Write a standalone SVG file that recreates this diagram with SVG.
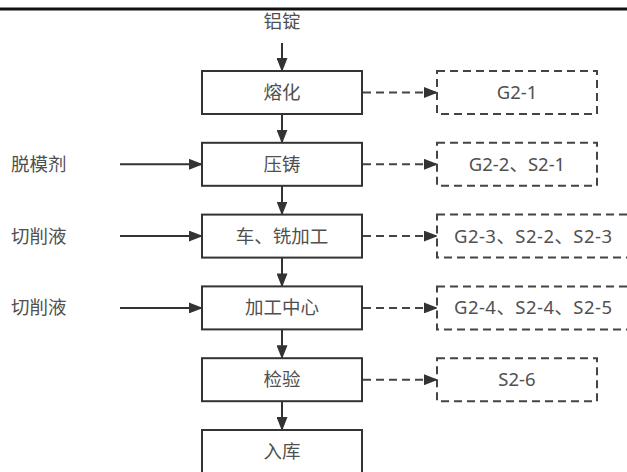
<svg xmlns="http://www.w3.org/2000/svg" width="627" height="472" viewBox="0 0 627 472">
<defs>
<marker id="ah" viewBox="0 0 14 11" refX="13" refY="5.5" markerWidth="14" markerHeight="11" markerUnits="userSpaceOnUse" orient="auto">
<path d="M0,0 L14,5.5 L0,11 Z" fill="#333"/>
</marker>
<style>
.box{fill:#fff;stroke:#333;stroke-width:2}
.dbox{fill:#fff;stroke:#444;stroke-width:2;stroke-dasharray:8 5}
.t{font-family:"Noto Sans","Noto Sans CJK SC",sans-serif;font-size:18.5px;fill:#505050;text-anchor:middle}
.l{font-family:"Noto Sans","Noto Sans CJK SC",sans-serif;font-size:18.5px;fill:#505050}
.c{fill:none;stroke:#333;stroke-width:2;marker-end:url(#ah)}
.d{fill:none;stroke:#444;stroke-width:2;stroke-dasharray:8 5;marker-end:url(#ah)}
</style>
</defs>
<rect width="627" height="472" fill="#fff"/>
<line x1="0" y1="9" x2="627" y2="9" stroke="#111" stroke-width="3"/>

<g id="connectors">
<line class="c" x1="282" y1="43" x2="282" y2="71"/>
<line class="c" x1="282" y1="114" x2="282" y2="142.8"/>
<line class="c" x1="282" y1="185.8" x2="282" y2="214.6"/>
<line class="c" x1="282" y1="257.6" x2="282" y2="286.4"/>
<line class="c" x1="282" y1="329.4" x2="282" y2="358.2"/>
<line class="c" x1="282" y1="401.2" x2="282" y2="430"/>
<line class="c" x1="120" y1="164.3" x2="202" y2="164.3"/>
<line class="c" x1="120" y1="236.1" x2="202" y2="236.1"/>
<line class="c" x1="120" y1="307.9" x2="202" y2="307.9"/>
<line class="d" x1="363" y1="92.5" x2="437" y2="92.5"/>
<line class="d" x1="363" y1="164.3" x2="437" y2="164.3"/>
<line class="d" x1="363" y1="236.1" x2="437" y2="236.1"/>
<line class="d" x1="363" y1="307.9" x2="437" y2="307.9"/>
<line class="d" x1="363" y1="379.7" x2="437" y2="379.7"/>
</g>

<g id="input-lvding"><text class="t" x="282" y="27.5">铝锭</text></g>
<g id="input-tuomoji"><text class="l" x="11" y="170.8">脱模剂</text></g>
<g id="input-qiexueye1"><text class="l" x="11" y="242.6">切削液</text></g>
<g id="input-qiexueye2"><text class="l" x="11" y="314.4">切削液</text></g>

<g id="n-ronghua"><rect class="box" x="202" y="71" width="160" height="43"/><text class="t" x="282" y="99">熔化</text></g>
<g id="n-yazhu"><rect class="box" x="202" y="142.8" width="160" height="43"/><text class="t" x="282" y="170.8">压铸</text></g>
<g id="n-chexi"><rect class="box" x="202" y="214.6" width="160" height="43"/><text class="t" x="282" y="242.6">车、铣加工</text></g>
<g id="n-jiagong"><rect class="box" x="202" y="286.4" width="160" height="43"/><text class="t" x="282" y="314.4">加工中心</text></g>
<g id="n-jianyan"><rect class="box" x="202" y="358.2" width="160" height="43"/><text class="t" x="282" y="386.2">检验</text></g>
<g id="n-ruku"><rect class="box" x="202" y="430" width="160" height="43"/><text class="t" x="282" y="458">入库</text></g>

<g id="o-1"><rect class="dbox" x="437" y="71" width="160" height="43"/><text class="t" x="517" y="99">G2-1</text></g>
<g id="o-2"><rect class="dbox" x="437" y="142.8" width="160" height="43"/><text class="t" x="517" y="170.8">G2-2、S2-1</text></g>
<g id="o-3"><rect class="dbox" x="437" y="214.6" width="194" height="43"/><text class="t" x="533" y="242.6" textLength="158" lengthAdjust="spacing">G2-3、S2-2、S2-3</text></g>
<g id="o-4"><rect class="dbox" x="437" y="286.4" width="194" height="43"/><text class="t" x="533" y="314.4" textLength="158" lengthAdjust="spacing">G2-4、S2-4、S2-5</text></g>
<g id="o-5"><rect class="dbox" x="437" y="358.2" width="160" height="43"/><text class="t" x="517" y="386.2">S2-6</text></g>
</svg>
